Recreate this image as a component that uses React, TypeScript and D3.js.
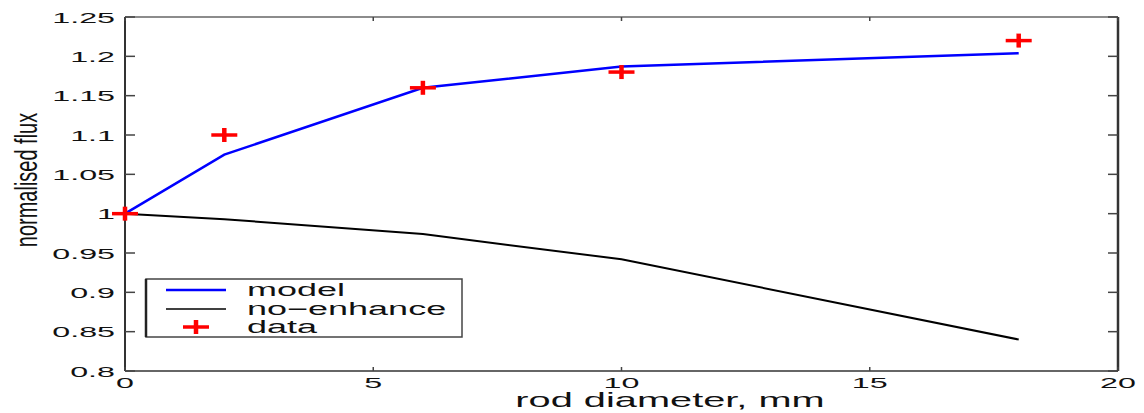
import React from "react";
import * as d3 from "d3";

const diameters = [0, 2, 6, 10, 18];
const modelFlux = [1.0, 1.075, 1.16, 1.187, 1.204];
const noEnhanceFlux = [1.0, 0.993, 0.974, 0.942, 0.84];
const dataFlux = [1.0, 1.1, 1.16, 1.18, 1.22];
const xTicks = [0, 5, 10, 15, 20];
const yTicks = [0.8, 0.85, 0.9, 0.95, 1, 1.05, 1.1, 1.15, 1.2, 1.25];
const yTickLabels = ["0.8", "0.85", "0.9", "0.95", "1", "1.05", "1.1", "1.15", "1.2", "1.25"];
const legendItems = ["model", "no\u2212enhance", "data"];

const W = 1144, H = 413;
const L = 125, R = 1118, T = 17, B = 371;
const FONT = "'Liberation Sans', Arial, Helvetica, sans-serif";
const SX = 2.08;

export default function App() {
  const x = d3.scaleLinear().domain([0, 20]).range([L, R]);
  const y = d3.scaleLinear().domain([0.8, 1.25]).range([B, T]);
  const line = d3.line<number>().x((_, i) => x(diameters[i])).y((d) => y(d));

  const plus = (cx: number, cy: number, key: string) => (
    <g key={key} stroke="#ff0000" strokeWidth={3.5}>
      <line x1={cx - 13} x2={cx + 13} y1={cy} y2={cy} />
      <line x1={cx} x2={cx} y1={cy - 7} y2={cy + 7} strokeWidth={4.5} />
    </g>
  );

  const lgX = 146, lgY = 279, lgW = 316, lgH = 58;
  const rows = [290, 309, 327];

  return (
    <svg width={W} height={H} style={{ position: "absolute", left: 0, top: 0, background: "#fff" }}>
      <rect x={0} y={0} width={W} height={H} fill="#fff" />
      {/* frame */}
      <line x1={L} x2={R} y1={T} y2={T} stroke="#666" strokeWidth={1.5} />
      <line x1={L} x2={R} y1={B} y2={B} stroke="#333" strokeWidth={1.5} />
      <line x1={L} x2={L} y1={T} y2={B} stroke="#333" strokeWidth={2} />
      <line x1={R} x2={R} y1={T} y2={B} stroke="#333" strokeWidth={2.5} />
      {/* ticks */}
      {xTicks.map((t) => (
        <g key={"xt" + t} stroke="#444" strokeWidth={1.5}>
          <line x1={x(t)} x2={x(t)} y1={B} y2={B - 4} />
          <line x1={x(t)} x2={x(t)} y1={T} y2={T + 4} />
        </g>
      ))}
      {yTicks.map((t) => (
        <g key={"yt" + t} stroke="#444" strokeWidth={1.5}>
          <line x1={L} x2={L + 10} y1={y(t)} y2={y(t)} />
          <line x1={R} x2={R - 10} y1={y(t)} y2={y(t)} />
        </g>
      ))}
      {/* tick labels */}
      {yTicks.map((t, i) => (
        <text key={"yl" + t} transform={`translate(${L - 10},${y(t) + 5.5}) scale(${SX},1)`}
          textAnchor="end" fontFamily={FONT} fontSize={15.5} fill="#111">{yTickLabels[i]}</text>
      ))}
      {xTicks.map((t) => (
        <text key={"xl" + t} transform={`translate(${x(t)},${388}) scale(${SX},1)`}
          textAnchor="middle" fontFamily={FONT} fontSize={15.5} fill="#111">{String(t)}</text>
      ))}
      {/* axis labels */}
      <text transform={`translate(670,407) scale(2.04,1)`} textAnchor="middle" fontFamily={FONT}
        fontSize={19.5} fill="#111">rod diameter, mm</text>
      <text transform={`translate(37,180) rotate(-90) scale(1,1.55)`} textAnchor="middle" fontFamily={FONT}
        fontSize={20} fill="#111">normalised flux</text>
      {/* series */}
      <path d={line(noEnhanceFlux) || ""} fill="none" stroke="#000" strokeWidth={2} />
      <path d={line(modelFlux) || ""} fill="none" stroke="#0000ff" strokeWidth={2.5} />
      {dataFlux.map((v, i) => plus(x(diameters[i]), y(v), "d" + i))}
      {/* legend */}
      <rect x={lgX} y={lgY} width={lgW} height={lgH} fill="#fff" stroke="#444" strokeWidth={1.5} />
      <line x1={lgX} x2={lgX} y1={lgY} y2={lgY + lgH} stroke="#222" strokeWidth={2.5} />
      <line x1={166} x2={226} y1={rows[0]} y2={rows[0]} stroke="#0000ff" strokeWidth={2.5} />
      <line x1={166} x2={226} y1={rows[1]} y2={rows[1]} stroke="#000" strokeWidth={1.5} />
      {plus(196, rows[2], "lg")}
      {legendItems.map((s, i) => (
        <text key={"lt" + i} transform={`translate(247,${rows[i] + 6}) scale(2.0,1)`} fontFamily={FONT}
          fontSize={18} fill="#111">{s}</text>
      ))}
    </svg>
  );
}
